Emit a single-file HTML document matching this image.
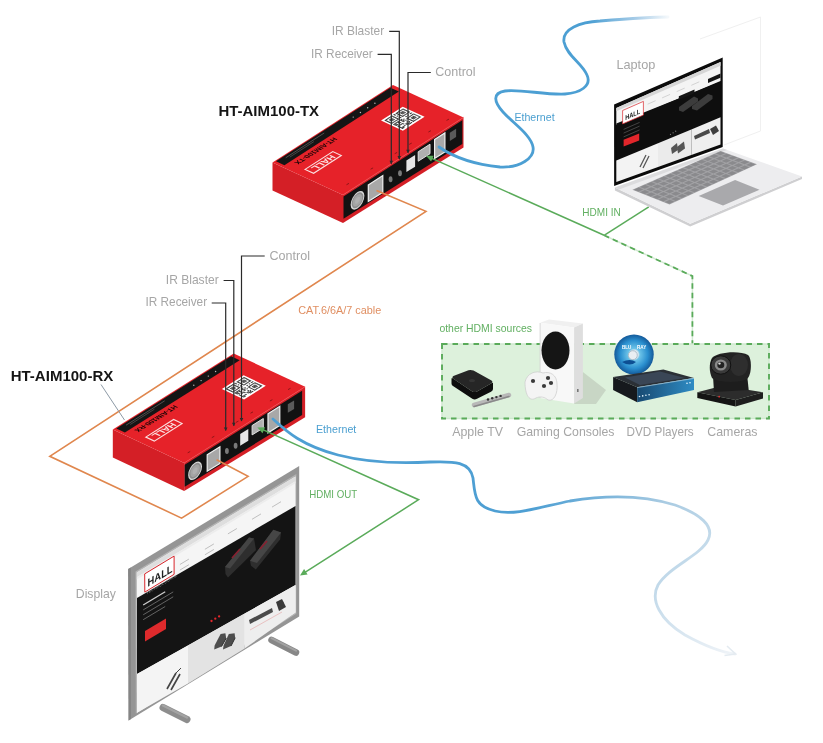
<!DOCTYPE html>
<html><head><meta charset="utf-8"><style>
html,body{margin:0;padding:0;background:#fff;overflow:hidden;}
svg{display:block;font-family:"Liberation Sans",sans-serif;will-change:transform;}
</style></head><body>
<svg width="823" height="743" viewBox="0 0 823 743">
<rect width="823" height="743" fill="#ffffff"/>
<line x1="760.5" y1="17.0" x2="760.5" y2="131.0" stroke="#f0f0f0" stroke-width="1" />
<line x1="760.5" y1="17.0" x2="700.0" y2="39.0" stroke="#f0f0f0" stroke-width="1" />
<line x1="760.5" y1="131.0" x2="724.0" y2="145.0" stroke="#f0f0f0" stroke-width="1" />
<defs><linearGradient id="g1" gradientUnits="userSpaceOnUse" x1="590" y1="0" x2="668" y2="0"><stop offset="0" stop-color="#4c9fd3"/><stop offset="0.6" stop-color="#a9cde8"/><stop offset="1" stop-color="#f4f8fb"/></linearGradient><linearGradient id="g2" gradientUnits="userSpaceOnUse" x1="560" y1="480" x2="740" y2="660"><stop offset="0" stop-color="#4e9fd3"/><stop offset="0.35" stop-color="#a9cbe2"/><stop offset="1" stop-color="#f4f6f9"/></linearGradient></defs>
<line x1="604.1" y1="235.3" x2="648.8" y2="206.9" stroke="#5aab5a" stroke-width="1.5" />
<polyline points="604.1,235.3 692.4,276.1 692.4,344" fill="none" stroke="#d3ead3" stroke-width="1.5"/>
<polyline points="604.1,235.3 692.4,276.1 692.4,344" fill="none" stroke="#5aab5a" stroke-width="1.8" stroke-dasharray="5.5,4"/>
<rect x="442" y="344" width="327" height="74.5" fill="#ddf1dc" stroke="#cfe8cf" stroke-width="1.5"/>
<rect x="442" y="344" width="327" height="74.5" fill="none" stroke="#5aab5a" stroke-width="1.9" stroke-dasharray="5.5,5"/>
<polygon points="614.9,187.4 690.2,223.8 802.0,176.5 802.0,179.0 690.2,226.5 614.9,190.5" fill="#cfcfd1" />
<polygon points="614.9,187.4 723.0,148.5 802.0,176.5 690.2,223.8" fill="#ededef" />
<polygon points="614.9,187.4 723.0,148.5 727.0,150.0 619.0,189.5" fill="#dcdcde" />
<polygon points="632.4,189.8 720.6,150.9 757.0,164.3 669.5,204.4" fill="#a2a2a5" />
<polygon points="633.8,189.8 638.7,187.6 643.4,189.5 638.5,191.6" fill="#8a8a8d" />
<polygon points="640.1,187.0 645.0,184.8 649.7,186.7 644.8,188.8" fill="#8a8a8d" />
<polygon points="646.4,184.2 651.3,182.1 656.0,183.9 651.1,186.0" fill="#8a8a8d" />
<polygon points="652.7,181.4 657.6,179.3 662.3,181.1 657.4,183.3" fill="#8a8a8d" />
<polygon points="659.0,178.7 663.9,176.5 668.6,178.3 663.7,180.5" fill="#8a8a8d" />
<polygon points="665.3,175.9 670.2,173.7 674.9,175.5 670.0,177.7" fill="#8a8a8d" />
<polygon points="671.6,173.1 676.5,170.9 681.2,172.7 676.3,174.9" fill="#8a8a8d" />
<polygon points="677.9,170.3 682.8,168.2 687.5,169.9 682.6,172.1" fill="#8a8a8d" />
<polygon points="684.2,167.5 689.1,165.4 693.8,167.1 688.9,169.3" fill="#8a8a8d" />
<polygon points="690.5,164.8 695.4,162.6 700.1,164.3 695.2,166.5" fill="#8a8a8d" />
<polygon points="696.8,162.0 701.7,159.8 706.4,161.6 701.5,163.7" fill="#8a8a8d" />
<polygon points="703.1,159.2 708.0,157.0 712.6,158.8 707.8,160.9" fill="#8a8a8d" />
<polygon points="709.4,156.4 714.3,154.3 718.9,156.0 714.1,158.1" fill="#8a8a8d" />
<polygon points="715.7,153.6 720.6,151.5 725.2,153.2 720.4,155.3" fill="#8a8a8d" />
<polygon points="640.0,192.2 644.9,190.0 649.6,191.9 644.7,194.1" fill="#8a8a8d" />
<polygon points="646.3,189.4 651.2,187.2 655.9,189.1 651.0,191.3" fill="#8a8a8d" />
<polygon points="652.6,186.6 657.5,184.5 662.2,186.3 657.3,188.4" fill="#8a8a8d" />
<polygon points="658.9,183.8 663.8,181.7 668.5,183.5 663.6,185.6" fill="#8a8a8d" />
<polygon points="665.2,181.0 670.1,178.9 674.7,180.7 669.9,182.8" fill="#8a8a8d" />
<polygon points="671.5,178.2 676.4,176.1 681.0,177.9 676.2,180.0" fill="#8a8a8d" />
<polygon points="677.8,175.4 682.7,173.3 687.3,175.1 682.4,177.2" fill="#8a8a8d" />
<polygon points="684.1,172.7 688.9,170.5 693.6,172.2 688.7,174.4" fill="#8a8a8d" />
<polygon points="690.4,169.9 695.2,167.7 699.9,169.4 695.0,171.6" fill="#8a8a8d" />
<polygon points="696.6,167.1 701.5,164.9 706.2,166.6 701.3,168.8" fill="#8a8a8d" />
<polygon points="702.9,164.3 707.8,162.1 712.4,163.8 707.6,166.0" fill="#8a8a8d" />
<polygon points="709.2,161.5 714.1,159.3 718.7,161.0 713.9,163.2" fill="#8a8a8d" />
<polygon points="715.5,158.7 720.4,156.5 725.0,158.2 720.1,160.4" fill="#8a8a8d" />
<polygon points="721.8,155.9 726.7,153.7 731.3,155.4 726.4,157.6" fill="#8a8a8d" />
<polygon points="646.2,194.6 651.1,192.5 655.8,194.3 650.9,196.5" fill="#8a8a8d" />
<polygon points="652.5,191.8 657.4,189.7 662.1,191.5 657.2,193.7" fill="#8a8a8d" />
<polygon points="658.8,189.0 663.7,186.8 668.3,188.7 663.5,190.9" fill="#8a8a8d" />
<polygon points="665.1,186.2 669.9,184.0 674.6,185.8 669.7,188.0" fill="#8a8a8d" />
<polygon points="671.3,183.4 676.2,181.2 680.9,183.0 676.0,185.2" fill="#8a8a8d" />
<polygon points="677.6,180.6 682.5,178.4 687.2,180.2 682.3,182.4" fill="#8a8a8d" />
<polygon points="683.9,177.8 688.8,175.6 693.4,177.4 688.6,179.6" fill="#8a8a8d" />
<polygon points="690.2,175.0 695.1,172.8 699.7,174.6 694.8,176.8" fill="#8a8a8d" />
<polygon points="696.5,172.2 701.3,170.0 706.0,171.7 701.1,173.9" fill="#8a8a8d" />
<polygon points="702.8,169.4 707.6,167.2 712.3,168.9 707.4,171.1" fill="#8a8a8d" />
<polygon points="709.0,166.6 713.9,164.4 718.5,166.1 713.7,168.3" fill="#8a8a8d" />
<polygon points="715.3,163.7 720.2,161.6 724.8,163.3 719.9,165.5" fill="#8a8a8d" />
<polygon points="721.6,160.9 726.5,158.8 731.1,160.5 726.2,162.7" fill="#8a8a8d" />
<polygon points="727.9,158.1 732.8,155.9 737.4,157.6 732.5,159.8" fill="#8a8a8d" />
<polygon points="652.4,197.1 657.3,194.9 662.0,196.7 657.1,198.9" fill="#8a8a8d" />
<polygon points="658.7,194.3 663.5,192.1 668.2,193.9 663.4,196.1" fill="#8a8a8d" />
<polygon points="664.9,191.4 669.8,189.2 674.5,191.1 669.6,193.3" fill="#8a8a8d" />
<polygon points="671.2,188.6 676.1,186.4 680.8,188.2 675.9,190.4" fill="#8a8a8d" />
<polygon points="677.5,185.8 682.4,183.6 687.0,185.4 682.2,187.6" fill="#8a8a8d" />
<polygon points="683.8,183.0 688.6,180.8 693.3,182.6 688.4,184.8" fill="#8a8a8d" />
<polygon points="690.0,180.1 694.9,177.9 699.6,179.7 694.7,181.9" fill="#8a8a8d" />
<polygon points="696.3,177.3 701.2,175.1 705.8,176.9 701.0,179.1" fill="#8a8a8d" />
<polygon points="702.6,174.5 707.5,172.3 712.1,174.1 707.2,176.3" fill="#8a8a8d" />
<polygon points="708.9,171.7 713.7,169.5 718.4,171.2 713.5,173.4" fill="#8a8a8d" />
<polygon points="715.1,168.8 720.0,166.7 724.6,168.4 719.8,170.6" fill="#8a8a8d" />
<polygon points="721.4,166.0 726.3,163.8 730.9,165.6 726.0,167.7" fill="#8a8a8d" />
<polygon points="727.7,163.2 732.6,161.0 737.2,162.7 732.3,164.9" fill="#8a8a8d" />
<polygon points="734.0,160.4 738.8,158.2 743.4,159.9 738.6,162.1" fill="#8a8a8d" />
<polygon points="658.6,199.5 663.4,197.3 668.1,199.1 663.3,201.4" fill="#8a8a8d" />
<polygon points="664.8,196.7 669.7,194.5 674.4,196.3 669.5,198.5" fill="#8a8a8d" />
<polygon points="671.1,193.8 676.0,191.6 680.7,193.4 675.8,195.7" fill="#8a8a8d" />
<polygon points="677.4,191.0 682.2,188.8 686.9,190.6 682.1,192.8" fill="#8a8a8d" />
<polygon points="683.6,188.2 688.5,186.0 693.2,187.8 688.3,190.0" fill="#8a8a8d" />
<polygon points="689.9,185.3 694.8,183.1 699.4,184.9 694.6,187.1" fill="#8a8a8d" />
<polygon points="696.2,182.5 701.0,180.3 705.7,182.1 700.8,184.3" fill="#8a8a8d" />
<polygon points="702.4,179.6 707.3,177.4 711.9,179.2 707.1,181.4" fill="#8a8a8d" />
<polygon points="708.7,176.8 713.6,174.6 718.2,176.4 713.4,178.6" fill="#8a8a8d" />
<polygon points="715.0,174.0 719.8,171.8 724.5,173.5 719.6,175.7" fill="#8a8a8d" />
<polygon points="721.2,171.1 726.1,168.9 730.7,170.7 725.9,172.9" fill="#8a8a8d" />
<polygon points="727.5,168.3 732.4,166.1 737.0,167.8 732.1,170.0" fill="#8a8a8d" />
<polygon points="733.8,165.5 738.6,163.3 743.2,165.0 738.4,167.2" fill="#8a8a8d" />
<polygon points="740.0,162.6 744.9,160.4 749.5,162.1 744.6,164.3" fill="#8a8a8d" />
<polygon points="664.8,201.9 669.6,199.7 674.3,201.6 669.5,203.8" fill="#8a8a8d" />
<polygon points="671.0,199.1 675.9,196.9 680.6,198.7 675.7,200.9" fill="#8a8a8d" />
<polygon points="677.3,196.2 682.1,194.0 686.8,195.8 682.0,198.1" fill="#8a8a8d" />
<polygon points="683.5,193.4 688.4,191.2 693.1,193.0 688.2,195.2" fill="#8a8a8d" />
<polygon points="689.8,190.5 694.6,188.3 699.3,190.1 694.5,192.3" fill="#8a8a8d" />
<polygon points="696.0,187.7 700.9,185.5 705.6,187.3 700.7,189.5" fill="#8a8a8d" />
<polygon points="702.3,184.8 707.2,182.6 711.8,184.4 707.0,186.6" fill="#8a8a8d" />
<polygon points="708.6,182.0 713.4,179.8 718.1,181.5 713.2,183.7" fill="#8a8a8d" />
<polygon points="714.8,179.1 719.7,176.9 724.3,178.7 719.5,180.9" fill="#8a8a8d" />
<polygon points="721.1,176.3 725.9,174.1 730.6,175.8 725.7,178.0" fill="#8a8a8d" />
<polygon points="727.3,173.4 732.2,171.2 736.8,172.9 732.0,175.2" fill="#8a8a8d" />
<polygon points="733.6,170.6 738.4,168.4 743.1,170.1 738.2,172.3" fill="#8a8a8d" />
<polygon points="739.8,167.7 744.7,165.5 749.3,167.2 744.5,169.4" fill="#8a8a8d" />
<polygon points="746.1,164.9 751.0,162.7 755.6,164.4 750.7,166.6" fill="#8a8a8d" />
<polygon points="698.7,195.9 735.1,180.1 759.5,189.8 723.0,205.6" fill="#a9a9ac" />
<polygon points="614.1,104.6 722.7,57.5 722.7,147.0 614.1,186.0" fill="#0b0b0b" />
<polygon points="616.3,108.0 720.5,62.0 720.5,81.0 616.3,125.0" fill="#f4f4f4" />
<polygon points="616.3,108.0 720.5,62.0 720.5,65.7 616.3,111.3" fill="#d6d6d6" />
<polygon points="616.3,123.5 720.5,81.8 720.5,117.3 616.3,160.5" fill="#0e0e0e" />
<polygon points="616.3,160.4 658.0,143.2 658.0,167.0 616.3,182.0" fill="#f3f3f3" />
<polygon points="658.0,143.2 691.3,129.4 691.3,155.0 658.0,167.0" fill="#ebebeb" />
<polygon points="691.3,129.4 720.5,117.2 720.5,144.5 691.3,155.0" fill="#efefef" />
<polygon points="678.8,96.2 694.5,89.6 694.5,93.2 678.8,99.8" fill="#151515" />
<polygon points="708.0,78.9 720.5,73.5 720.5,77.7 708.0,83.0" fill="#151515" />
<line x1="647.6" y1="104.2" x2="655.6" y2="100.7" stroke="#c4c4c4" stroke-width="0.7" />
<line x1="662.1" y1="97.9" x2="670.1" y2="94.4" stroke="#c4c4c4" stroke-width="0.7" />
<line x1="676.7" y1="91.6" x2="684.7" y2="88.1" stroke="#c4c4c4" stroke-width="0.7" />
<line x1="691.3" y1="85.3" x2="699.3" y2="81.8" stroke="#c4c4c4" stroke-width="0.7" />
<polygon points="622.6,110.5 643.4,101.4 643.4,115.1 622.6,123.9" fill="#ffffff" stroke="#d9262c" stroke-width="0.7"/>
<text x="0" y="0" font-size="7" font-weight="bold" fill="#222" textLength="15" lengthAdjust="spacingAndGlyphs" transform="matrix(1,-0.44,0,1,625.2,120.2)">HALL</text>
<line x1="623.6" y1="129.4" x2="639.6" y2="122.4" stroke="#666" stroke-width="0.6" />
<line x1="623.6" y1="133.1" x2="639.6" y2="126.1" stroke="#666" stroke-width="0.6" />
<line x1="623.6" y1="136.9" x2="639.6" y2="129.9" stroke="#666" stroke-width="0.6" />
<polygon points="623.6,139.8 639.2,133.5 639.2,140.4 623.6,146.6" fill="#e2262b" />
<polygon points="679.0,107.0 694.0,96.5 698.0,98.5 698.0,101.5 683.0,112.0 679.0,110.5" fill="#3c3c3c" />
<polygon points="692.0,106.0 708.0,94.0 712.5,95.5 712.5,99.0 697.0,110.5 692.0,109.0" fill="#3c3c3c" />
<circle cx="670.5" cy="134.3" r="0.6" fill="#888"/>
<circle cx="673.1" cy="132.8" r="0.6" fill="#888"/>
<circle cx="675.7" cy="131.2" r="0.6" fill="#888"/>
<line x1="640.0" y1="167.0" x2="646.0" y2="155.0" stroke="#555" stroke-width="1.3" />
<line x1="643.0" y1="168.0" x2="649.0" y2="156.0" stroke="#555" stroke-width="1.3" />
<polygon points="671.0,148.0 677.0,143.0 678.0,150.0 672.0,154.0" fill="#555" />
<polygon points="677.0,147.0 684.0,141.5 685.0,148.5 678.0,153.5" fill="#555" />
<polygon points="694.0,136.0 709.0,129.0 710.0,133.0 695.0,139.5" fill="#4a4a4a" />
<polygon points="710.0,129.0 716.0,125.5 719.0,131.0 713.0,135.0" fill="#3e3e3e" />
<line x1="271.5" y1="640" x2="296" y2="652.5" stroke="#878787" stroke-width="6.5" stroke-linecap="round"/>
<line x1="271.5" y1="638.2" x2="296" y2="650.7" stroke="#a2a2a2" stroke-width="2" stroke-linecap="round"/>
<polygon points="128.2,569.0 299.2,466.0 299.2,616.5 128.6,720.4" fill="#959595" />
<polygon points="128.2,569.0 130.8,567.5 131.0,719.0 128.6,720.4" fill="#858585" />
<polygon points="135.5,571.5 296.3,474.0 296.3,613.8 135.8,713.8" fill="#b3b3b3" />
<polygon points="136.8,572.4 295.5,476.5 295.5,612.6 137.0,712.8" fill="#f5f5f5" />
<polygon points="136.8,572.4 295.5,476.5 295.5,481.3 136.8,577.3" fill="#dedede" />
<polygon points="136.8,577.3 295.5,481.3 295.5,483.3 136.8,579.4" fill="#ececec" />
<polygon points="137.0,598.0 295.5,506.0 295.5,585.0 137.0,674.0" fill="#141414" />
<polygon points="137.0,674.0 188.0,645.4 188.0,683.5 137.0,712.8" fill="#f4f4f4" />
<polygon points="188.0,645.4 244.6,613.6 244.6,648.5 188.0,683.5" fill="#e3e3e3" />
<polygon points="244.6,613.6 295.5,585.0 295.5,612.6 244.6,648.5" fill="#eeeeee" />
<line x1="179.9" y1="564.5" x2="188.9" y2="559.1" stroke="#b9b9b9" stroke-width="0.9" />
<line x1="204.9" y1="549.3" x2="213.9" y2="543.9" stroke="#b9b9b9" stroke-width="0.9" />
<line x1="227.9" y1="533.9" x2="236.9" y2="528.5" stroke="#b9b9b9" stroke-width="0.9" />
<line x1="252.0" y1="519.3" x2="261.0" y2="513.9" stroke="#b9b9b9" stroke-width="0.9" />
<line x1="272.0" y1="507.1" x2="281.0" y2="501.7" stroke="#b9b9b9" stroke-width="0.9" />
<line x1="179.9" y1="570.1" x2="188.9" y2="564.7" stroke="#b9b9b9" stroke-width="0.9" />
<line x1="204.9" y1="554.8" x2="213.9" y2="549.4" stroke="#b9b9b9" stroke-width="0.9" />
<polygon points="144.7,573.9 174.1,556.1 174.1,574.3 144.8,592.1" fill="#ffffff" stroke="#d9262c" stroke-width="1"/>
<text x="0" y="0" font-size="11" font-weight="bold" fill="#1e1e1e" textLength="25" lengthAdjust="spacingAndGlyphs" transform="matrix(1,-0.6,0,1,147.6,586.9)">HALL</text>
<text x="0" y="0" font-size="3.2" fill="#888" textLength="30" lengthAdjust="spacingAndGlyphs" transform="matrix(1,-0.6,0,1,146.4,594.7)">TECHNOLOGIES</text>
<line x1="143.2" y1="605.0" x2="165.2" y2="591.8" stroke="#cfcfcf" stroke-width="1.3" />
<line x1="143.2" y1="609.9" x2="173.2" y2="591.9" stroke="#777" stroke-width="0.8" />
<line x1="143.2" y1="614.8" x2="173.2" y2="596.8" stroke="#777" stroke-width="0.8" />
<line x1="143.2" y1="619.7" x2="165.2" y2="606.5" stroke="#777" stroke-width="0.8" />
<polygon points="145.0,631.0 166.0,618.5 166.0,629.0 145.0,641.5" fill="#de2a2c" />
<polygon points="225.0,567.0 249.0,537.5 254.0,538.5 256.0,550.0 228.0,577.5 225.5,574.0" fill="#2e2e2e" />
<polygon points="225.0,567.0 249.0,537.5 254.0,538.5 230.0,568.5" fill="#444" />
<polygon points="250.0,560.8 273.3,529.7 281.1,532.6 280.1,539.4 255.8,569.6 251.0,565.7" fill="#2e2e2e" />
<polygon points="250.0,560.8 273.3,529.7 281.1,532.6 257.0,563.0" fill="#464646" />
<line x1="232.0" y1="558.0" x2="240.0" y2="549.0" stroke="#8a2030" stroke-width="1.6" />
<line x1="260.0" y1="549.0" x2="267.0" y2="541.0" stroke="#8a2030" stroke-width="1.6" />
<circle cx="211.5" cy="621.0" r="1.15" fill="#e0262b"/>
<circle cx="215.3" cy="618.7" r="1.15" fill="#e0262b"/>
<circle cx="219.1" cy="616.4" r="1.15" fill="#e0262b"/>
<line x1="167.0" y1="689.0" x2="176.0" y2="673.0" stroke="#444" stroke-width="1.6" />
<line x1="171.0" y1="690.0" x2="180.0" y2="674.0" stroke="#444" stroke-width="1.6" />
<line x1="176.0" y1="673.0" x2="181.0" y2="668.0" stroke="#444" stroke-width="1" />
<polygon points="220.6,634.0 225.4,633.3 226.2,638.2 221.5,646.5 214.2,649.4 214.6,645.5" fill="#4d4d4d" />
<polygon points="228.8,634.0 234.6,633.3 235.2,637.8 231.0,646.0 223.0,649.4 223.6,645.5" fill="#4d4d4d" />
<line x1="221.5" y1="646.5" x2="226.2" y2="638.2" stroke="#2f2f2f" stroke-width="1" />
<line x1="231.0" y1="646.0" x2="235.2" y2="637.8" stroke="#2f2f2f" stroke-width="1" />
<polygon points="249.0,620.0 272.0,608.0 273.0,612.0 250.0,624.0" fill="#4a4a4a" />
<polygon points="276.0,602.0 282.0,599.0 286.0,607.0 279.0,611.0" fill="#3a3a3a" />
<circle cx="281" cy="603" r="2.5" fill="#3a3a3a"/>
<line x1="250.0" y1="630.0" x2="282.0" y2="612.0" stroke="#e6a3a3" stroke-width="0.6" />
<polygon points="272.5,162.4 343.0,194.9 343.0,222.9 272.5,190.4" fill="#d41f26" />
<polygon points="343.0,194.9 463.5,117.4 463.5,147.4 343.0,222.9" fill="#d41f26" />
<polygon points="343.5,196.6 462.3,120.3 462.3,144.0 343.5,218.7" fill="#121212" />
<polygon points="272.5,162.4 393.0,84.9 463.5,117.4 343.0,194.9" fill="#e62229" />
<line x1="343.0" y1="194.9" x2="463.5" y2="117.4" stroke="#f04a4f" stroke-width="0.8"/>
<polygon points="276.0,161.3 390.4,87.7 398.9,91.6 284.4,165.2" fill="#151515" />
<text x="0" y="0" font-size="7" font-weight="bold" fill="#1a0506" textLength="47" lengthAdjust="spacingAndGlyphs" transform="matrix(-0.841,0.541,-0.908,-0.419,333.4,137.2)">HT-AIM100-TX</text>
<line x1="285.7" y1="157.8" x2="324.2" y2="133.0" stroke="#777" stroke-width="0.6"/>
<line x1="289.8" y1="157.1" x2="313.9" y2="141.6" stroke="#666" stroke-width="0.6"/>
<circle cx="353.2" cy="117.1" r="0.7" fill="#bbb"/>
<circle cx="360.4" cy="112.5" r="0.7" fill="#bbb"/>
<circle cx="367.7" cy="107.8" r="0.7" fill="#bbb"/>
<circle cx="374.9" cy="103.2" r="0.7" fill="#bbb"/>
<polygon points="381.0,120.6 402.7,106.7 424.6,116.8 402.9,130.7" fill="#ffffff" />
<polygon points="384.3,120.5 385.4,119.8 386.5,120.3 385.4,121.0" fill="#2a2a2a" />
<polygon points="385.4,119.8 386.5,119.1 387.6,119.6 386.5,120.3" fill="#2a2a2a" />
<polygon points="386.5,119.1 387.6,118.3 388.7,118.8 387.6,119.6" fill="#2a2a2a" />
<polygon points="387.6,118.3 388.7,117.6 389.8,118.1 388.7,118.8" fill="#2a2a2a" />
<polygon points="388.7,117.6 389.8,116.9 390.9,117.4 389.8,118.1" fill="#2a2a2a" />
<polygon points="389.8,116.9 390.9,116.2 392.0,116.7 390.9,117.4" fill="#2a2a2a" />
<polygon points="390.9,116.2 392.0,115.5 393.1,116.0 392.0,116.7" fill="#2a2a2a" />
<polygon points="385.4,121.0 386.5,120.3 387.5,120.8 386.5,121.5" fill="#2a2a2a" />
<polygon points="392.0,116.7 393.1,116.0 394.1,116.5 393.0,117.2" fill="#2a2a2a" />
<polygon points="386.5,121.5 387.5,120.8 388.6,121.3 387.5,122.0" fill="#2a2a2a" />
<polygon points="388.6,120.0 389.7,119.3 390.8,119.8 389.7,120.5" fill="#2a2a2a" />
<polygon points="389.7,119.3 390.8,118.6 391.9,119.1 390.8,119.8" fill="#2a2a2a" />
<polygon points="390.8,118.6 391.9,117.9 393.0,118.4 391.9,119.1" fill="#2a2a2a" />
<polygon points="393.0,117.2 394.1,116.5 395.2,117.0 394.1,117.7" fill="#2a2a2a" />
<polygon points="387.5,122.0 388.6,121.3 389.7,121.8 388.6,122.5" fill="#2a2a2a" />
<polygon points="389.7,120.5 390.8,119.8 391.9,120.3 390.8,121.0" fill="#2a2a2a" />
<polygon points="390.8,119.8 391.9,119.1 393.0,119.6 391.9,120.3" fill="#2a2a2a" />
<polygon points="391.9,119.1 393.0,118.4 394.1,118.9 393.0,119.6" fill="#2a2a2a" />
<polygon points="394.1,117.7 395.2,117.0 396.3,117.5 395.2,118.2" fill="#2a2a2a" />
<polygon points="388.6,122.5 389.7,121.8 390.8,122.2 389.7,123.0" fill="#2a2a2a" />
<polygon points="390.8,121.0 391.9,120.3 393.0,120.8 391.9,121.5" fill="#2a2a2a" />
<polygon points="391.9,120.3 393.0,119.6 394.1,120.1 393.0,120.8" fill="#2a2a2a" />
<polygon points="393.0,119.6 394.1,118.9 395.2,119.4 394.1,120.1" fill="#2a2a2a" />
<polygon points="395.2,118.2 396.3,117.5 397.4,118.0 396.3,118.7" fill="#2a2a2a" />
<polygon points="389.7,123.0 390.8,122.2 391.9,122.7 390.8,123.5" fill="#2a2a2a" />
<polygon points="396.3,118.7 397.4,118.0 398.5,118.5 397.4,119.2" fill="#2a2a2a" />
<polygon points="390.8,123.5 391.9,122.7 392.9,123.2 391.8,123.9" fill="#2a2a2a" />
<polygon points="391.9,122.7 393.0,122.0 394.0,122.5 392.9,123.2" fill="#2a2a2a" />
<polygon points="393.0,122.0 394.1,121.3 395.1,121.8 394.0,122.5" fill="#2a2a2a" />
<polygon points="394.1,121.3 395.2,120.6 396.2,121.1 395.1,121.8" fill="#2a2a2a" />
<polygon points="395.2,120.6 396.3,119.9 397.3,120.4 396.2,121.1" fill="#2a2a2a" />
<polygon points="396.3,119.9 397.4,119.2 398.4,119.7 397.3,120.4" fill="#2a2a2a" />
<polygon points="397.4,119.2 398.5,118.5 399.5,119.0 398.4,119.7" fill="#2a2a2a" />
<polygon points="395.3,113.4 396.4,112.7 397.5,113.2 396.4,113.9" fill="#2a2a2a" />
<polygon points="396.4,112.7 397.5,112.0 398.6,112.5 397.5,113.2" fill="#2a2a2a" />
<polygon points="397.5,112.0 398.6,111.3 399.7,111.8 398.6,112.5" fill="#2a2a2a" />
<polygon points="398.6,111.3 399.7,110.6 400.8,111.1 399.7,111.8" fill="#2a2a2a" />
<polygon points="399.7,110.6 400.8,109.9 401.9,110.4 400.8,111.1" fill="#2a2a2a" />
<polygon points="400.8,109.9 401.9,109.2 403.0,109.7 401.9,110.4" fill="#2a2a2a" />
<polygon points="401.9,109.2 403.0,108.5 404.0,109.0 403.0,109.7" fill="#2a2a2a" />
<polygon points="396.4,113.9 397.5,113.2 398.5,113.7 397.4,114.4" fill="#2a2a2a" />
<polygon points="403.0,109.7 404.0,109.0 405.1,109.5 404.0,110.2" fill="#2a2a2a" />
<polygon points="397.4,114.4 398.5,113.7 399.6,114.2 398.5,114.9" fill="#2a2a2a" />
<polygon points="399.6,113.0 400.7,112.3 401.8,112.8 400.7,113.5" fill="#2a2a2a" />
<polygon points="400.7,112.3 401.8,111.6 402.9,112.1 401.8,112.8" fill="#2a2a2a" />
<polygon points="401.8,111.6 402.9,110.9 404.0,111.4 402.9,112.1" fill="#2a2a2a" />
<polygon points="404.0,110.2 405.1,109.5 406.2,109.9 405.1,110.7" fill="#2a2a2a" />
<polygon points="398.5,114.9 399.6,114.2 400.7,114.7 399.6,115.4" fill="#2a2a2a" />
<polygon points="400.7,113.5 401.8,112.8 402.9,113.3 401.8,114.0" fill="#2a2a2a" />
<polygon points="401.8,112.8 402.9,112.1 404.0,112.6 402.9,113.3" fill="#2a2a2a" />
<polygon points="402.9,112.1 404.0,111.4 405.1,111.9 404.0,112.6" fill="#2a2a2a" />
<polygon points="405.1,110.7 406.2,109.9 407.3,110.4 406.2,111.2" fill="#2a2a2a" />
<polygon points="399.6,115.4 400.7,114.7 401.8,115.2 400.7,115.9" fill="#2a2a2a" />
<polygon points="401.8,114.0 402.9,113.3 404.0,113.8 402.9,114.5" fill="#2a2a2a" />
<polygon points="402.9,113.3 404.0,112.6 405.1,113.1 404.0,113.8" fill="#2a2a2a" />
<polygon points="404.0,112.6 405.1,111.9 406.2,112.4 405.1,113.1" fill="#2a2a2a" />
<polygon points="406.2,111.2 407.3,110.4 408.4,110.9 407.3,111.6" fill="#2a2a2a" />
<polygon points="400.7,115.9 401.8,115.2 402.8,115.7 401.7,116.4" fill="#2a2a2a" />
<polygon points="407.3,111.6 408.4,110.9 409.4,111.4 408.3,112.1" fill="#2a2a2a" />
<polygon points="401.7,116.4 402.8,115.7 403.9,116.2 402.8,116.9" fill="#2a2a2a" />
<polygon points="402.8,115.7 403.9,115.0 405.0,115.5 403.9,116.2" fill="#2a2a2a" />
<polygon points="403.9,115.0 405.0,114.3 406.1,114.8 405.0,115.5" fill="#2a2a2a" />
<polygon points="405.0,114.3 406.1,113.6 407.2,114.1 406.1,114.8" fill="#2a2a2a" />
<polygon points="406.1,113.6 407.2,112.9 408.3,113.3 407.2,114.1" fill="#2a2a2a" />
<polygon points="407.2,112.9 408.3,112.1 409.4,112.6 408.3,113.3" fill="#2a2a2a" />
<polygon points="408.3,112.1 409.4,111.4 410.5,111.9 409.4,112.6" fill="#2a2a2a" />
<polygon points="406.1,118.4 407.2,117.7 408.2,118.2 407.1,118.9" fill="#2a2a2a" />
<polygon points="407.2,117.7 408.3,117.0 409.3,117.5 408.2,118.2" fill="#2a2a2a" />
<polygon points="408.3,117.0 409.4,116.3 410.4,116.8 409.3,117.5" fill="#2a2a2a" />
<polygon points="409.4,116.3 410.5,115.5 411.5,116.0 410.4,116.8" fill="#2a2a2a" />
<polygon points="410.5,115.5 411.6,114.8 412.6,115.3 411.5,116.0" fill="#2a2a2a" />
<polygon points="411.6,114.8 412.7,114.1 413.7,114.6 412.6,115.3" fill="#2a2a2a" />
<polygon points="412.7,114.1 413.8,113.4 414.8,113.9 413.7,114.6" fill="#2a2a2a" />
<polygon points="407.1,118.9 408.2,118.2 409.3,118.7 408.2,119.4" fill="#2a2a2a" />
<polygon points="413.7,114.6 414.8,113.9 415.9,114.4 414.8,115.1" fill="#2a2a2a" />
<polygon points="408.2,119.4 409.3,118.7 410.4,119.2 409.3,119.9" fill="#2a2a2a" />
<polygon points="410.4,118.0 411.5,117.2 412.6,117.7 411.5,118.5" fill="#2a2a2a" />
<polygon points="411.5,117.2 412.6,116.5 413.7,117.0 412.6,117.7" fill="#2a2a2a" />
<polygon points="412.6,116.5 413.7,115.8 414.8,116.3 413.7,117.0" fill="#2a2a2a" />
<polygon points="414.8,115.1 415.9,114.4 417.0,114.9 415.9,115.6" fill="#2a2a2a" />
<polygon points="409.3,119.9 410.4,119.2 411.5,119.7 410.4,120.4" fill="#2a2a2a" />
<polygon points="411.5,118.5 412.6,117.7 413.7,118.2 412.6,118.9" fill="#2a2a2a" />
<polygon points="412.6,117.7 413.7,117.0 414.8,117.5 413.7,118.2" fill="#2a2a2a" />
<polygon points="413.7,117.0 414.8,116.3 415.9,116.8 414.8,117.5" fill="#2a2a2a" />
<polygon points="415.9,115.6 417.0,114.9 418.1,115.4 417.0,116.1" fill="#2a2a2a" />
<polygon points="410.4,120.4 411.5,119.7 412.6,120.2 411.5,120.9" fill="#2a2a2a" />
<polygon points="412.6,118.9 413.7,118.2 414.8,118.7 413.7,119.4" fill="#2a2a2a" />
<polygon points="413.7,118.2 414.8,117.5 415.8,118.0 414.8,118.7" fill="#2a2a2a" />
<polygon points="414.8,117.5 415.9,116.8 416.9,117.3 415.8,118.0" fill="#2a2a2a" />
<polygon points="417.0,116.1 418.1,115.4 419.1,115.9 418.0,116.6" fill="#2a2a2a" />
<polygon points="411.5,120.9 412.6,120.2 413.6,120.6 412.5,121.4" fill="#2a2a2a" />
<polygon points="418.0,116.6 419.1,115.9 420.2,116.4 419.1,117.1" fill="#2a2a2a" />
<polygon points="412.5,121.4 413.6,120.6 414.7,121.1 413.6,121.9" fill="#2a2a2a" />
<polygon points="413.6,120.6 414.7,119.9 415.8,120.4 414.7,121.1" fill="#2a2a2a" />
<polygon points="414.7,119.9 415.8,119.2 416.9,119.7 415.8,120.4" fill="#2a2a2a" />
<polygon points="415.8,119.2 416.9,118.5 418.0,119.0 416.9,119.7" fill="#2a2a2a" />
<polygon points="416.9,118.5 418.0,117.8 419.1,118.3 418.0,119.0" fill="#2a2a2a" />
<polygon points="418.0,117.8 419.1,117.1 420.2,117.6 419.1,118.3" fill="#2a2a2a" />
<polygon points="419.1,117.1 420.2,116.4 421.3,116.9 420.2,117.6" fill="#2a2a2a" />
<polygon points="393.1,114.8 394.2,114.1 395.3,114.6 394.2,115.3" fill="#2a2a2a" />
<polygon points="394.2,115.3 395.3,114.6 396.3,115.1 395.2,115.8" fill="#2a2a2a" />
<polygon points="396.3,116.3 397.4,115.6 398.5,116.1 397.4,116.8" fill="#2a2a2a" />
<polygon points="398.5,117.3 399.6,116.6 400.7,117.1 399.6,117.8" fill="#2a2a2a" />
<polygon points="399.6,117.8 400.7,117.1 401.7,117.6 400.6,118.3" fill="#2a2a2a" />
<polygon points="392.9,124.4 394.0,123.7 395.1,124.2 394.0,124.9" fill="#2a2a2a" />
<polygon points="394.0,123.7 395.1,123.0 396.2,123.5 395.1,124.2" fill="#2a2a2a" />
<polygon points="395.1,123.0 396.2,122.3 397.3,122.8 396.2,123.5" fill="#2a2a2a" />
<polygon points="396.2,122.3 397.3,121.6 398.4,122.1 397.3,122.8" fill="#2a2a2a" />
<polygon points="397.3,121.6 398.4,120.9 399.5,121.4 398.4,122.1" fill="#2a2a2a" />
<polygon points="399.5,120.2 400.6,119.5 401.7,120.0 400.6,120.7" fill="#2a2a2a" />
<polygon points="400.6,119.5 401.7,118.8 402.8,119.3 401.7,120.0" fill="#2a2a2a" />
<polygon points="405.0,116.7 406.1,116.0 407.2,116.5 406.1,117.2" fill="#2a2a2a" />
<polygon points="407.2,115.3 408.3,114.6 409.4,115.0 408.3,115.8" fill="#2a2a2a" />
<polygon points="409.4,113.8 410.5,113.1 411.6,113.6 410.5,114.3" fill="#2a2a2a" />
<polygon points="410.5,113.1 411.6,112.4 412.7,112.9 411.6,113.6" fill="#2a2a2a" />
<polygon points="394.0,124.9 395.1,124.2 396.2,124.7 395.1,125.4" fill="#2a2a2a" />
<polygon points="395.1,124.2 396.2,123.5 397.3,124.0 396.2,124.7" fill="#2a2a2a" />
<polygon points="397.3,122.8 398.4,122.1 399.5,122.6 398.4,123.3" fill="#2a2a2a" />
<polygon points="400.6,120.7 401.7,120.0 402.8,120.5 401.7,121.2" fill="#2a2a2a" />
<polygon points="402.8,119.3 403.9,118.6 405.0,119.1 403.9,119.8" fill="#2a2a2a" />
<polygon points="395.1,125.4 396.2,124.7 397.3,125.2 396.2,125.9" fill="#2a2a2a" />
<polygon points="396.2,124.7 397.3,124.0 398.4,124.5 397.3,125.2" fill="#2a2a2a" />
<polygon points="398.4,123.3 399.5,122.6 400.5,123.1 399.5,123.8" fill="#2a2a2a" />
<polygon points="399.5,122.6 400.6,121.9 401.6,122.4 400.5,123.1" fill="#2a2a2a" />
<polygon points="401.7,121.2 402.8,120.5 403.8,121.0 402.7,121.7" fill="#2a2a2a" />
<polygon points="402.8,120.5 403.9,119.8 404.9,120.3 403.8,121.0" fill="#2a2a2a" />
<polygon points="397.3,125.2 398.4,124.5 399.4,125.0 398.3,125.7" fill="#2a2a2a" />
<polygon points="402.7,121.7 403.8,121.0 404.9,121.5 403.8,122.2" fill="#2a2a2a" />
<polygon points="404.9,120.3 406.0,119.6 407.1,120.1 406.0,120.8" fill="#2a2a2a" />
<polygon points="397.2,126.4 398.3,125.7 399.4,126.2 398.3,126.9" fill="#2a2a2a" />
<polygon points="399.4,125.0 400.5,124.3 401.6,124.8 400.5,125.5" fill="#2a2a2a" />
<polygon points="400.5,124.3 401.6,123.6 402.7,124.1 401.6,124.8" fill="#2a2a2a" />
<polygon points="401.6,123.6 402.7,122.9 403.8,123.4 402.7,124.1" fill="#2a2a2a" />
<polygon points="398.3,126.9 399.4,126.2 400.5,126.7 399.4,127.4" fill="#2a2a2a" />
<polygon points="402.7,124.1 403.8,123.4 404.9,123.9 403.8,124.6" fill="#2a2a2a" />
<polygon points="406.0,122.0 407.1,121.3 408.2,121.8 407.1,122.5" fill="#2a2a2a" />
<polygon points="399.4,127.4 400.5,126.7 401.6,127.2 400.5,127.9" fill="#2a2a2a" />
<polygon points="404.9,123.9 406.0,123.2 407.1,123.7 406.0,124.4" fill="#2a2a2a" />
<polygon points="406.0,123.2 407.1,122.5 408.2,123.0 407.1,123.7" fill="#2a2a2a" />
<polygon points="408.2,121.8 409.3,121.1 410.4,121.6 409.3,122.3" fill="#2a2a2a" />
<polygon points="400.5,127.9 401.6,127.2 402.6,127.7 401.5,128.4" fill="#2a2a2a" />
<polygon points="401.6,127.2 402.7,126.5 403.7,127.0 402.6,127.7" fill="#2a2a2a" />
<polygon points="402.7,126.5 403.8,125.8 404.8,126.3 403.7,127.0" fill="#2a2a2a" />
<polygon points="403.8,125.8 404.9,125.1 405.9,125.6 404.8,126.3" fill="#2a2a2a" />
<polygon points="406.0,124.4 407.1,123.7 408.1,124.2 407.0,124.9" fill="#2a2a2a" />
<polygon points="407.1,123.7 408.2,123.0 409.2,123.5 408.1,124.2" fill="#2a2a2a" />
<polygon points="408.2,123.0 409.3,122.3 410.3,122.8 409.2,123.5" fill="#2a2a2a" />
<polygon points="401.5,128.4 402.6,127.7 403.7,128.2 402.6,128.9" fill="#2a2a2a" />
<polygon points="402.6,127.7 403.7,127.0 404.8,127.5 403.7,128.2" fill="#2a2a2a" />
<polygon points="408.1,124.2 409.2,123.5 410.3,124.0 409.2,124.7" fill="#2a2a2a" />
<polygon points="409.2,123.5 410.3,122.8 411.4,123.3 410.3,124.0" fill="#2a2a2a" />
<polygon points="410.3,122.8 411.4,122.1 412.5,122.6 411.4,123.3" fill="#2a2a2a" />
<polygon points="305.1,169.4 332.8,151.6 341.3,155.5 313.6,173.3" fill="none" stroke="#fbe0e0" stroke-width="1.1"/>
<text x="0" y="0" font-size="8.5" font-weight="bold" fill="#fbe3e3" textLength="24.4" lengthAdjust="spacingAndGlyphs" transform="matrix(-0.841,0.541,-0.908,-0.419,331.0,154.8)">HALL</text>
<path d="M346.5,184.7 l2.5,-1.3" stroke="#6a1010" stroke-width="0.7"/>
<path d="M370.6,169.2 l2.5,-1.3" stroke="#6a1010" stroke-width="0.7"/>
<path d="M394.7,153.7 l2.5,-1.3" stroke="#6a1010" stroke-width="0.7"/>
<path d="M409.2,144.4 l2.5,-1.3" stroke="#6a1010" stroke-width="0.7"/>
<path d="M428.4,132.0 l2.5,-1.3" stroke="#6a1010" stroke-width="0.7"/>
<path d="M446.5,120.4 l2.5,-1.3" stroke="#6a1010" stroke-width="0.7"/>
<g transform="matrix(0.841,-0.541,0,1,357.5,200.3)"><circle r="8.2" fill="#d8d8d8"/><circle r="7" fill="#8e8e8e"/><circle r="5.5" fill="#a4a4a4"/><circle r="3" fill="#b0b0b0"/></g>
<polygon points="368.3,184.9 382.8,175.6 382.8,192.3 368.3,201.4" fill="#a8a8a8" stroke="#f0f0f0" stroke-width="1.2"/>
<ellipse cx="390.6" cy="179.3" rx="1.9" ry="3" fill="#7a7a7a"/>
<ellipse cx="400.0" cy="173.3" rx="1.9" ry="3" fill="#7a7a7a"/>
<polygon points="406.4,160.5 415.1,155.0 415.1,166.7 406.4,172.1" fill="#e6e6e6" />
<polygon points="418.2,151.8 430.0,144.2 430.0,153.7 418.2,161.2" fill="#b0b0b0" stroke="#e0e0e0" stroke-width="1"/>
<polygon points="434.6,139.5 444.9,132.9 444.9,151.9 434.6,158.4" fill="#a8a8a8" stroke="#f0f0f0" stroke-width="1.2"/>
<polygon points="449.8,132.8 456.1,128.7 456.1,137.1 449.8,141.1" fill="#5a5a5a" />
<polygon points="112.8,429.6 184.2,463.0 184.2,491.0 112.8,457.6" fill="#d41f26" />
<polygon points="184.2,463.0 305.1,386.8 305.1,417.3 184.2,491.0" fill="#d41f26" />
<polygon points="184.7,464.7 302.1,390.8 302.1,414.9 184.7,486.8" fill="#121212" />
<polygon points="112.8,429.6 233.7,353.4 305.1,386.8 184.2,463.0" fill="#e62229" />
<line x1="184.2" y1="463.0" x2="305.1" y2="386.8" stroke="#f04a4f" stroke-width="0.8"/>
<polygon points="116.3,428.6 231.1,356.2 239.7,360.2 124.9,432.6" fill="#151515" />
<text x="0" y="0" font-size="7" font-weight="bold" fill="#1a0506" textLength="47" lengthAdjust="spacingAndGlyphs" transform="matrix(-0.846,0.533,-0.906,-0.424,174.0,405.1)">HT-AIM100-RX</text>
<line x1="126.0" y1="425.2" x2="164.7" y2="400.8" stroke="#777" stroke-width="0.6"/>
<line x1="130.2" y1="424.5" x2="154.4" y2="409.2" stroke="#666" stroke-width="0.6"/>
<circle cx="193.8" cy="385.2" r="0.7" fill="#bbb"/>
<circle cx="201.1" cy="380.6" r="0.7" fill="#bbb"/>
<circle cx="208.3" cy="376.1" r="0.7" fill="#bbb"/>
<circle cx="215.6" cy="371.5" r="0.7" fill="#bbb"/>
<polygon points="221.9,389.0 243.7,375.3 265.8,385.7 244.1,399.4" fill="#ffffff" />
<polygon points="225.2,388.9 226.3,388.2 227.4,388.7 226.3,389.4" fill="#2a2a2a" />
<polygon points="226.3,388.2 227.4,387.5 228.5,388.0 227.4,388.7" fill="#2a2a2a" />
<polygon points="227.4,387.5 228.5,386.8 229.6,387.4 228.5,388.0" fill="#2a2a2a" />
<polygon points="228.5,386.8 229.6,386.1 230.7,386.7 229.6,387.4" fill="#2a2a2a" />
<polygon points="229.6,386.1 230.7,385.5 231.8,386.0 230.7,386.7" fill="#2a2a2a" />
<polygon points="230.7,385.5 231.8,384.8 232.9,385.3 231.8,386.0" fill="#2a2a2a" />
<polygon points="231.8,384.8 232.9,384.1 234.0,384.6 232.9,385.3" fill="#2a2a2a" />
<polygon points="226.3,389.4 227.4,388.7 228.5,389.3 227.4,390.0" fill="#2a2a2a" />
<polygon points="232.9,385.3 234.0,384.6 235.1,385.1 234.0,385.8" fill="#2a2a2a" />
<polygon points="227.4,390.0 228.5,389.3 229.6,389.8 228.5,390.5" fill="#2a2a2a" />
<polygon points="229.6,388.6 230.7,387.9 231.8,388.4 230.7,389.1" fill="#2a2a2a" />
<polygon points="230.7,387.9 231.8,387.2 232.9,387.7 231.8,388.4" fill="#2a2a2a" />
<polygon points="231.8,387.2 232.9,386.5 234.0,387.0 232.9,387.7" fill="#2a2a2a" />
<polygon points="234.0,385.8 235.1,385.1 236.2,385.6 235.1,386.3" fill="#2a2a2a" />
<polygon points="228.5,390.5 229.6,389.8 230.7,390.3 229.6,391.0" fill="#2a2a2a" />
<polygon points="230.7,389.1 231.8,388.4 232.9,388.9 231.8,389.6" fill="#2a2a2a" />
<polygon points="231.8,388.4 232.9,387.7 234.0,388.2 232.9,388.9" fill="#2a2a2a" />
<polygon points="232.9,387.7 234.0,387.0 235.1,387.5 234.0,388.2" fill="#2a2a2a" />
<polygon points="235.1,386.3 236.2,385.6 237.3,386.1 236.2,386.8" fill="#2a2a2a" />
<polygon points="229.6,391.0 230.7,390.3 231.8,390.8 230.7,391.5" fill="#2a2a2a" />
<polygon points="231.8,389.6 232.9,388.9 234.0,389.4 232.9,390.1" fill="#2a2a2a" />
<polygon points="232.9,388.9 234.0,388.2 235.1,388.7 234.0,389.4" fill="#2a2a2a" />
<polygon points="234.0,388.2 235.1,387.5 236.2,388.0 235.1,388.7" fill="#2a2a2a" />
<polygon points="236.2,386.8 237.3,386.1 238.4,386.6 237.3,387.3" fill="#2a2a2a" />
<polygon points="230.7,391.5 231.8,390.8 232.9,391.3 231.8,392.0" fill="#2a2a2a" />
<polygon points="237.3,387.3 238.4,386.6 239.5,387.1 238.4,387.8" fill="#2a2a2a" />
<polygon points="231.8,392.0 232.9,391.3 234.0,391.8 232.9,392.5" fill="#2a2a2a" />
<polygon points="232.9,391.3 234.0,390.6 235.1,391.1 234.0,391.8" fill="#2a2a2a" />
<polygon points="234.0,390.6 235.1,389.9 236.2,390.4 235.1,391.1" fill="#2a2a2a" />
<polygon points="235.1,389.9 236.2,389.2 237.3,389.7 236.2,390.4" fill="#2a2a2a" />
<polygon points="236.2,389.2 237.3,388.5 238.4,389.0 237.3,389.7" fill="#2a2a2a" />
<polygon points="237.3,388.5 238.4,387.8 239.5,388.3 238.4,389.0" fill="#2a2a2a" />
<polygon points="238.4,387.8 239.5,387.1 240.6,387.6 239.5,388.3" fill="#2a2a2a" />
<polygon points="236.2,382.0 237.3,381.3 238.4,381.8 237.3,382.5" fill="#2a2a2a" />
<polygon points="237.3,381.3 238.4,380.6 239.5,381.1 238.4,381.8" fill="#2a2a2a" />
<polygon points="238.4,380.6 239.6,379.9 240.6,380.4 239.5,381.1" fill="#2a2a2a" />
<polygon points="239.6,379.9 240.7,379.2 241.7,379.7 240.6,380.4" fill="#2a2a2a" />
<polygon points="240.7,379.2 241.8,378.5 242.8,379.0 241.7,379.7" fill="#2a2a2a" />
<polygon points="241.8,378.5 242.9,377.8 244.0,378.3 242.8,379.0" fill="#2a2a2a" />
<polygon points="242.9,377.8 244.0,377.1 245.1,377.6 244.0,378.3" fill="#2a2a2a" />
<polygon points="237.3,382.5 238.4,381.8 239.5,382.3 238.4,383.0" fill="#2a2a2a" />
<polygon points="244.0,378.3 245.1,377.6 246.1,378.1 245.0,378.8" fill="#2a2a2a" />
<polygon points="238.4,383.0 239.5,382.3 240.6,382.8 239.5,383.5" fill="#2a2a2a" />
<polygon points="240.6,381.6 241.7,380.9 242.8,381.4 241.7,382.1" fill="#2a2a2a" />
<polygon points="241.7,380.9 242.8,380.2 243.9,380.7 242.8,381.4" fill="#2a2a2a" />
<polygon points="242.8,380.2 243.9,379.5 245.0,380.0 243.9,380.7" fill="#2a2a2a" />
<polygon points="245.0,378.8 246.1,378.1 247.2,378.6 246.1,379.3" fill="#2a2a2a" />
<polygon points="239.5,383.5 240.6,382.8 241.7,383.3 240.6,384.0" fill="#2a2a2a" />
<polygon points="241.7,382.1 242.8,381.4 243.9,381.9 242.8,382.6" fill="#2a2a2a" />
<polygon points="242.8,381.4 243.9,380.7 245.0,381.2 243.9,381.9" fill="#2a2a2a" />
<polygon points="243.9,380.7 245.0,380.0 246.1,380.6 245.0,381.2" fill="#2a2a2a" />
<polygon points="246.1,379.3 247.2,378.6 248.3,379.2 247.2,379.9" fill="#2a2a2a" />
<polygon points="240.6,384.0 241.7,383.3 242.8,383.8 241.7,384.5" fill="#2a2a2a" />
<polygon points="242.8,382.6 243.9,381.9 245.0,382.5 243.9,383.1" fill="#2a2a2a" />
<polygon points="243.9,381.9 245.0,381.2 246.1,381.8 245.0,382.5" fill="#2a2a2a" />
<polygon points="245.0,381.2 246.1,380.6 247.2,381.1 246.1,381.8" fill="#2a2a2a" />
<polygon points="247.2,379.9 248.3,379.2 249.4,379.7 248.3,380.4" fill="#2a2a2a" />
<polygon points="241.7,384.5 242.8,383.8 243.9,384.4 242.8,385.0" fill="#2a2a2a" />
<polygon points="248.3,380.4 249.4,379.7 250.5,380.2 249.4,380.9" fill="#2a2a2a" />
<polygon points="242.8,385.0 243.9,384.4 245.0,384.9 243.9,385.6" fill="#2a2a2a" />
<polygon points="243.9,384.4 245.0,383.7 246.1,384.2 245.0,384.9" fill="#2a2a2a" />
<polygon points="245.0,383.7 246.1,383.0 247.2,383.5 246.1,384.2" fill="#2a2a2a" />
<polygon points="246.1,383.0 247.2,382.3 248.3,382.8 247.2,383.5" fill="#2a2a2a" />
<polygon points="247.2,382.3 248.3,381.6 249.4,382.1 248.3,382.8" fill="#2a2a2a" />
<polygon points="248.3,381.6 249.4,380.9 250.5,381.4 249.4,382.1" fill="#2a2a2a" />
<polygon points="249.4,380.9 250.5,380.2 251.6,380.7 250.5,381.4" fill="#2a2a2a" />
<polygon points="247.2,387.1 248.3,386.4 249.4,386.9 248.3,387.6" fill="#2a2a2a" />
<polygon points="248.3,386.4 249.4,385.7 250.5,386.2 249.4,386.9" fill="#2a2a2a" />
<polygon points="249.4,385.7 250.5,385.0 251.6,385.5 250.5,386.2" fill="#2a2a2a" />
<polygon points="250.5,385.0 251.6,384.3 252.7,384.8 251.6,385.5" fill="#2a2a2a" />
<polygon points="251.6,384.3 252.7,383.6 253.8,384.1 252.7,384.8" fill="#2a2a2a" />
<polygon points="252.7,383.6 253.8,382.9 254.9,383.4 253.8,384.1" fill="#2a2a2a" />
<polygon points="253.8,382.9 254.9,382.2 256.0,382.7 254.9,383.4" fill="#2a2a2a" />
<polygon points="248.3,387.6 249.4,386.9 250.5,387.4 249.3,388.1" fill="#2a2a2a" />
<polygon points="254.9,383.4 256.0,382.7 257.1,383.2 256.0,383.9" fill="#2a2a2a" />
<polygon points="249.3,388.1 250.5,387.4 251.5,387.9 250.4,388.6" fill="#2a2a2a" />
<polygon points="251.6,386.7 252.7,386.0 253.7,386.5 252.6,387.2" fill="#2a2a2a" />
<polygon points="252.7,386.0 253.8,385.3 254.8,385.8 253.7,386.5" fill="#2a2a2a" />
<polygon points="253.8,385.3 254.9,384.6 256.0,385.1 254.8,385.8" fill="#2a2a2a" />
<polygon points="256.0,383.9 257.1,383.2 258.2,383.8 257.1,384.5" fill="#2a2a2a" />
<polygon points="250.4,388.6 251.5,387.9 252.6,388.4 251.5,389.1" fill="#2a2a2a" />
<polygon points="252.6,387.2 253.7,386.5 254.8,387.0 253.7,387.7" fill="#2a2a2a" />
<polygon points="253.7,386.5 254.8,385.8 255.9,386.4 254.8,387.0" fill="#2a2a2a" />
<polygon points="254.8,385.8 256.0,385.1 257.0,385.7 255.9,386.4" fill="#2a2a2a" />
<polygon points="257.1,384.5 258.2,383.8 259.2,384.3 258.1,385.0" fill="#2a2a2a" />
<polygon points="251.5,389.1 252.6,388.4 253.7,388.9 252.6,389.6" fill="#2a2a2a" />
<polygon points="253.7,387.7 254.8,387.0 255.9,387.6 254.8,388.3" fill="#2a2a2a" />
<polygon points="254.8,387.0 255.9,386.4 257.0,386.9 255.9,387.6" fill="#2a2a2a" />
<polygon points="255.9,386.4 257.0,385.7 258.1,386.2 257.0,386.9" fill="#2a2a2a" />
<polygon points="258.1,385.0 259.2,384.3 260.3,384.8 259.2,385.5" fill="#2a2a2a" />
<polygon points="252.6,389.6 253.7,388.9 254.8,389.5 253.7,390.2" fill="#2a2a2a" />
<polygon points="259.2,385.5 260.3,384.8 261.4,385.3 260.3,386.0" fill="#2a2a2a" />
<polygon points="253.7,390.2 254.8,389.5 255.9,390.0 254.8,390.7" fill="#2a2a2a" />
<polygon points="254.8,389.5 255.9,388.8 257.0,389.3 255.9,390.0" fill="#2a2a2a" />
<polygon points="255.9,388.8 257.0,388.1 258.1,388.6 257.0,389.3" fill="#2a2a2a" />
<polygon points="257.0,388.1 258.1,387.4 259.2,387.9 258.1,388.6" fill="#2a2a2a" />
<polygon points="258.1,387.4 259.2,386.7 260.3,387.2 259.2,387.9" fill="#2a2a2a" />
<polygon points="259.2,386.7 260.3,386.0 261.4,386.5 260.3,387.2" fill="#2a2a2a" />
<polygon points="260.3,386.0 261.4,385.3 262.5,385.8 261.4,386.5" fill="#2a2a2a" />
<polygon points="234.0,383.4 235.1,382.7 236.2,383.2 235.1,383.9" fill="#2a2a2a" />
<polygon points="235.1,383.9 236.2,383.2 237.3,383.7 236.2,384.4" fill="#2a2a2a" />
<polygon points="237.3,384.9 238.4,384.2 239.5,384.7 238.4,385.4" fill="#2a2a2a" />
<polygon points="239.5,385.9 240.6,385.2 241.7,385.7 240.6,386.4" fill="#2a2a2a" />
<polygon points="240.6,386.4 241.7,385.7 242.8,386.3 241.7,386.9" fill="#2a2a2a" />
<polygon points="234.0,393.0 235.1,392.3 236.2,392.8 235.0,393.5" fill="#2a2a2a" />
<polygon points="235.1,392.3 236.2,391.6 237.3,392.1 236.2,392.8" fill="#2a2a2a" />
<polygon points="236.2,391.6 237.3,390.9 238.4,391.4 237.3,392.1" fill="#2a2a2a" />
<polygon points="237.3,390.9 238.4,390.2 239.5,390.7 238.4,391.4" fill="#2a2a2a" />
<polygon points="238.4,390.2 239.5,389.5 240.6,390.1 239.5,390.7" fill="#2a2a2a" />
<polygon points="240.6,388.8 241.7,388.2 242.8,388.7 241.7,389.4" fill="#2a2a2a" />
<polygon points="241.7,388.2 242.8,387.5 243.9,388.0 242.8,388.7" fill="#2a2a2a" />
<polygon points="246.1,385.4 247.2,384.7 248.3,385.2 247.2,385.9" fill="#2a2a2a" />
<polygon points="248.3,384.0 249.4,383.3 250.5,383.8 249.4,384.5" fill="#2a2a2a" />
<polygon points="250.5,382.6 251.6,381.9 252.7,382.4 251.6,383.1" fill="#2a2a2a" />
<polygon points="251.6,381.9 252.7,381.2 253.8,381.7 252.7,382.4" fill="#2a2a2a" />
<polygon points="235.0,393.5 236.2,392.8 237.2,393.3 236.1,394.0" fill="#2a2a2a" />
<polygon points="236.2,392.8 237.3,392.1 238.3,392.6 237.2,393.3" fill="#2a2a2a" />
<polygon points="238.4,391.4 239.5,390.7 240.6,391.3 239.4,392.0" fill="#2a2a2a" />
<polygon points="241.7,389.4 242.8,388.7 243.9,389.2 242.8,389.9" fill="#2a2a2a" />
<polygon points="243.9,388.0 245.0,387.3 246.1,387.8 245.0,388.5" fill="#2a2a2a" />
<polygon points="236.1,394.0 237.2,393.3 238.3,393.9 237.2,394.5" fill="#2a2a2a" />
<polygon points="237.2,393.3 238.3,392.6 239.4,393.2 238.3,393.9" fill="#2a2a2a" />
<polygon points="239.4,392.0 240.6,391.3 241.6,391.8 240.5,392.5" fill="#2a2a2a" />
<polygon points="240.6,391.3 241.7,390.6 242.7,391.1 241.6,391.8" fill="#2a2a2a" />
<polygon points="242.8,389.9 243.9,389.2 244.9,389.7 243.8,390.4" fill="#2a2a2a" />
<polygon points="243.9,389.2 245.0,388.5 246.1,389.0 244.9,389.7" fill="#2a2a2a" />
<polygon points="238.3,393.9 239.4,393.2 240.5,393.7 239.4,394.4" fill="#2a2a2a" />
<polygon points="243.8,390.4 244.9,389.7 246.0,390.2 244.9,390.9" fill="#2a2a2a" />
<polygon points="246.1,389.0 247.2,388.3 248.2,388.8 247.1,389.5" fill="#2a2a2a" />
<polygon points="238.3,395.1 239.4,394.4 240.5,394.9 239.4,395.6" fill="#2a2a2a" />
<polygon points="240.5,393.7 241.6,393.0 242.7,393.5 241.6,394.2" fill="#2a2a2a" />
<polygon points="241.6,393.0 242.7,392.3 243.8,392.8 242.7,393.5" fill="#2a2a2a" />
<polygon points="242.7,392.3 243.8,391.6 244.9,392.1 243.8,392.8" fill="#2a2a2a" />
<polygon points="239.4,395.6 240.5,394.9 241.6,395.4 240.5,396.1" fill="#2a2a2a" />
<polygon points="243.8,392.8 244.9,392.1 246.0,392.6 244.9,393.3" fill="#2a2a2a" />
<polygon points="247.1,390.7 248.2,390.0 249.3,390.5 248.2,391.2" fill="#2a2a2a" />
<polygon points="240.5,396.1 241.6,395.4 242.7,395.9 241.6,396.6" fill="#2a2a2a" />
<polygon points="246.0,392.6 247.1,391.9 248.2,392.4 247.1,393.1" fill="#2a2a2a" />
<polygon points="247.1,391.9 248.2,391.2 249.3,391.7 248.2,392.4" fill="#2a2a2a" />
<polygon points="249.3,390.5 250.4,389.8 251.5,390.3 250.4,391.0" fill="#2a2a2a" />
<polygon points="241.6,396.6 242.7,395.9 243.8,396.4 242.7,397.1" fill="#2a2a2a" />
<polygon points="242.7,395.9 243.8,395.2 244.9,395.7 243.8,396.4" fill="#2a2a2a" />
<polygon points="243.8,395.2 244.9,394.5 246.0,395.0 244.9,395.7" fill="#2a2a2a" />
<polygon points="244.9,394.5 246.0,393.8 247.1,394.3 246.0,395.0" fill="#2a2a2a" />
<polygon points="247.1,393.1 248.2,392.4 249.3,392.9 248.2,393.6" fill="#2a2a2a" />
<polygon points="248.2,392.4 249.3,391.7 250.4,392.2 249.3,392.9" fill="#2a2a2a" />
<polygon points="249.3,391.7 250.4,391.0 251.5,391.5 250.4,392.2" fill="#2a2a2a" />
<polygon points="242.7,397.1 243.8,396.4 244.9,396.9 243.8,397.6" fill="#2a2a2a" />
<polygon points="243.8,396.4 244.9,395.7 246.0,396.2 244.9,396.9" fill="#2a2a2a" />
<polygon points="249.3,392.9 250.4,392.2 251.5,392.7 250.4,393.4" fill="#2a2a2a" />
<polygon points="250.4,392.2 251.5,391.5 252.6,392.1 251.5,392.7" fill="#2a2a2a" />
<polygon points="251.5,391.5 252.6,390.8 253.7,391.4 252.6,392.1" fill="#2a2a2a" />
<polygon points="145.8,437.1 173.6,419.5 182.1,423.5 154.3,441.1" fill="none" stroke="#fbe0e0" stroke-width="1.1"/>
<text x="0" y="0" font-size="8.5" font-weight="bold" fill="#fbe3e3" textLength="24.3" lengthAdjust="spacingAndGlyphs" transform="matrix(-0.846,0.533,-0.906,-0.424,171.7,422.6)">HALL</text>
<path d="M187.7,452.8 l2.5,-1.3" stroke="#6a1010" stroke-width="0.7"/>
<path d="M211.8,437.6 l2.5,-1.3" stroke="#6a1010" stroke-width="0.7"/>
<path d="M236.0,422.4 l2.5,-1.3" stroke="#6a1010" stroke-width="0.7"/>
<path d="M250.5,413.2 l2.5,-1.3" stroke="#6a1010" stroke-width="0.7"/>
<path d="M269.9,401.0 l2.5,-1.3" stroke="#6a1010" stroke-width="0.7"/>
<path d="M288.0,389.6 l2.5,-1.3" stroke="#6a1010" stroke-width="0.7"/>
<g transform="matrix(0.846,-0.533,0,1,195.1,470.8)"><circle r="8.2" fill="#d8d8d8"/><circle r="7" fill="#8e8e8e"/><circle r="5.5" fill="#a4a4a4"/><circle r="3" fill="#b0b0b0"/></g>
<polygon points="207.2,454.8 219.9,446.8 219.9,463.5 207.2,471.3" fill="#a8a8a8" stroke="#f0f0f0" stroke-width="1.2"/>
<ellipse cx="226.9" cy="451.1" rx="1.9" ry="3" fill="#7a7a7a"/>
<ellipse cx="235.6" cy="445.7" rx="1.9" ry="3" fill="#7a7a7a"/>
<polygon points="240.2,434.1 248.3,429.1 248.3,440.8 240.2,445.8" fill="#e6e6e6" />
<polygon points="252.1,425.5 263.3,418.5 263.3,428.0 252.1,434.9" fill="#b0b0b0" stroke="#e0e0e0" stroke-width="1"/>
<polygon points="268.0,413.8 279.8,406.3 279.8,425.5 268.0,432.8" fill="#a8a8a8" stroke="#f0f0f0" stroke-width="1.2"/>
<polygon points="287.8,404.3 294.1,400.4 294.1,408.9 287.8,412.8" fill="#5a5a5a" />
<path d="M439,147 C452,156 470,164 500,167 C520,168 535,158 533,147 C531,135 514,124 503,112 C494,102 492,93 505,91 C520,89 545,95 565,94 C580,93 592,86 587,75 C582,63 567,56 564,42 C562,29 580,22 600,21 C625,19 650,17 668,17" fill="none" stroke="url(#g1)" stroke-width="2.8" stroke-linecap="round"/>
<path d="M273,419 C285,430 300,445 338,455 C365,462 395,464 430,462 C455,461 470,462 473,478 C475,495 474,506 495,511 C515,516 540,507 570,501 C600,496 640,494 675,505 C700,514 715,526 708,540 C700,556 670,566 658,585 C650,600 660,620 685,635 C705,646 720,652 735,654" fill="none" stroke="url(#g2)" stroke-width="2.8" stroke-linecap="round"/>
<polyline points="376.5,190.4 426,211.3 49.8,456.3 181.6,518.1 248.1,476.4 216.6,459.8" fill="none" stroke="#e0874e" stroke-width="1.6"/>
<line x1="604.1" y1="235.3" x2="429.0" y2="157.1" stroke="#5aab5a" stroke-width="1.5" />
<polygon points="426.0,155.8 433.7,155.7 431.1,161.6" fill="#5aab5a" />
<polyline points="260.5,428.6 418.6,499.7 303,573.6" fill="none" stroke="#5aab5a" stroke-width="1.5"/>
<polygon points="257.4,427.4 265.1,427.3 262.5,433.2" fill="#5aab5a" />
<polygon points="300.0,575.5 304.1,569.0 307.6,574.5" fill="#5aab5a" />
<line x1="101.0" y1="384.5" x2="124.5" y2="420.0" stroke="#8d9aa6" stroke-width="1" />
<polyline points="727,646 735.5,654 724.5,655.5" fill="none" stroke="#e4ebf1" stroke-width="1.6"/>
<line x1="163" y1="707.5" x2="187" y2="719.5" stroke="#8d8d8d" stroke-width="7" stroke-linecap="round"/>
<line x1="163" y1="705.5" x2="187" y2="717.5" stroke="#a3a3a3" stroke-width="2.5" stroke-linecap="round"/>
<path d="M453,378.5 Q451.5,377 454,375.8 L468.5,370.2 Q471,369.5 473.5,370.6 L491.5,380.5 Q493.5,382 491,383.4 L477,391.5 Q474.7,392.6 472.3,391.5 Z" fill="#262626"/>
<path d="M453,378.5 L472.3,391.5 Q474.7,392.6 477,391.5 L491,383.4 Q493.5,382 493,384 L493,389 Q493,390.5 491,391.8 L477,398.8 Q474.7,400 472.3,398.8 L453,386 Q451.5,385 451.5,383.5 L451.5,379 Q451.5,377.5 453,378.5 Z" fill="#0e0e0e"/>
<ellipse cx="472" cy="380.5" rx="3" ry="1.6" fill="#353535"/>
<line x1="474" y1="405" x2="509" y2="395" stroke="#b8b8b8" stroke-width="4.5" stroke-linecap="round"/>
<line x1="474" y1="406.5" x2="509" y2="396.5" stroke="#8a8a8a" stroke-width="1.5" stroke-linecap="round"/>
<circle cx="488.0" cy="399.5" r="1.2" fill="#333"/>
<circle cx="492.2" cy="398.3" r="1.2" fill="#333"/>
<circle cx="496.4" cy="397.1" r="1.2" fill="#333"/>
<circle cx="500.6" cy="395.9" r="1.2" fill="#333"/>
<polygon points="582.9,372.0 606.0,390.0 596.0,404.0 574.0,404.0" fill="#c8d6c5" />
<polygon points="540.1,322.8 549.0,319.5 582.9,323.5 574.1,327.6" fill="#f0f0f0" />
<polygon points="540.1,322.8 574.1,327.6 574.1,403.5 540.1,398.0" fill="#f8f8f8" />
<polygon points="574.1,327.6 582.9,323.5 582.9,398.0 574.1,403.5" fill="#dedede" />
<ellipse cx="555.5" cy="350.5" rx="14" ry="19" fill="#151515"/>
<line x1="540.1" y1="323.0" x2="540.1" y2="398.0" stroke="#d2d2d2" stroke-width="0.8" />
<rect x="577" y="389" width="1.6" height="3" fill="#777"/>
<path d="M525,382 C527,373 536,370 543,373 C550,371 557,375 557,384 C558,393 554,402 548,400 C545,397 540,396 536,398 C530,402 525,396 525,382 Z" fill="#f4f4f4" stroke="#cfcfcf" stroke-width="0.8"/>
<circle cx="533" cy="381" r="2.1" fill="#3a3a3a"/>
<circle cx="548" cy="378" r="2.1" fill="#3a3a3a"/>
<circle cx="544" cy="386" r="2.1" fill="#3a3a3a"/>
<circle cx="551" cy="383" r="2.1" fill="#3a3a3a"/>
<defs><radialGradient id="disc" cx="0.5" cy="0.5" r="0.5"><stop offset="0" stop-color="#ffffff"/><stop offset="0.22" stop-color="#d8e6ee"/><stop offset="0.3" stop-color="#6cc3e8"/><stop offset="0.7" stop-color="#2a8fcf"/><stop offset="1" stop-color="#145a9a"/></radialGradient><linearGradient id="dvdf" x1="0" y1="0" x2="1" y2="0"><stop offset="0" stop-color="#184a72"/><stop offset="1" stop-color="#2f8cc4"/></linearGradient></defs>
<ellipse cx="634" cy="354.5" rx="19.7" ry="20" fill="url(#disc)"/>
<ellipse cx="632.8" cy="355.2" rx="4.5" ry="4.5" fill="#e9eef2" stroke="#9fb4c2" stroke-width="0.8"/>
<path d="M622,362 q8,-4 14,0 q-6,5 -14,0z" fill="#0d4f93"/>
<text x="622" y="348.5" font-size="4.6" font-weight="bold" fill="#fff">BLU</text>
<text x="637" y="348.5" font-size="4.6" font-weight="bold" fill="#fff">RAY</text>
<polygon points="613.1,377.0 663.4,369.4 694.0,378.1 637.2,387.3" fill="#2b3036" />
<polygon points="625.0,377.5 660.0,371.5 685.0,378.0 640.0,385.0" fill="#3a4656" />
<polygon points="613.1,377.0 637.2,387.3 637.2,402.2 613.1,390.0" fill="#16191d" />
<polygon points="637.2,387.3 694.0,378.1 694.0,390.0 637.2,402.2" fill="url(#dvdf)" />
<line x1="637.2" y1="387.6" x2="694.0" y2="378.4" stroke="#bcd6e6" stroke-width="0.6" />
<circle cx="639.5" cy="396.5" r="0.8" fill="#e8f6ff"/>
<circle cx="642.7" cy="395.9" r="0.8" fill="#e8f6ff"/>
<circle cx="645.9" cy="395.3" r="0.8" fill="#e8f6ff"/>
<circle cx="649.1" cy="394.7" r="0.8" fill="#e8f6ff"/>
<circle cx="687.0" cy="383.3" r="0.8" fill="#e8f6ff"/>
<circle cx="690.0" cy="382.8" r="0.8" fill="#e8f6ff"/>
<polygon points="697.3,392.3 722.5,385.8 763.0,392.3 735.6,400.0" fill="#2c2c2c" />
<polygon points="697.3,392.3 735.6,400.0 735.6,406.6 697.3,398.0" fill="#141414" />
<polygon points="735.6,400.0 763.0,392.3 763.0,398.5 735.6,406.6" fill="#1e1e1e" />
<circle cx="719.2" cy="396.7" r="0.9" fill="#e03030"/>
<polygon points="713.0,376.0 747.0,374.0 748.7,390.0 714.0,392.0" fill="#1d1d1d" />
<path d="M712,358 C716,352 740,350 748,355 C752,358 752,375 747,379 C740,383 718,383 712,378 C709,372 709,363 712,358 Z" fill="#232323"/>
<ellipse cx="739" cy="365" rx="9" ry="11" fill="#2e2e2e"/>
<ellipse cx="720.8" cy="365" rx="10" ry="9.2" fill="#3a3a3a" stroke="#111" stroke-width="1"/>
<ellipse cx="720.8" cy="365" rx="6" ry="5.5" fill="#8a8a8a"/>
<ellipse cx="720.8" cy="365" rx="3.5" ry="3.2" fill="#222"/>
<ellipse cx="719.5" cy="363.6" rx="1.3" ry="1.1" fill="#ddd"/>
<text x="218.4" y="115.5" font-size="14.8" fill="#151515" font-weight="bold" textLength="100.7" lengthAdjust="spacingAndGlyphs">HT-AIM100-TX</text>
<text x="10.7" y="381.1" font-size="15.3" fill="#151515" font-weight="bold" textLength="102.6" lengthAdjust="spacingAndGlyphs">HT-AIM100-RX</text>
<text x="331.7" y="35.3" font-size="12.6" fill="#a6a6a6" font-weight="normal" textLength="52.5" lengthAdjust="spacingAndGlyphs">IR Blaster</text>
<text x="311" y="57.6" font-size="12.6" fill="#a6a6a6" font-weight="normal" textLength="61.8" lengthAdjust="spacingAndGlyphs">IR Receiver</text>
<text x="435.2" y="75.8" font-size="12.6" fill="#a6a6a6" font-weight="normal" textLength="40.4" lengthAdjust="spacingAndGlyphs">Control</text>
<polyline points="389.2,31.4 399.3,31.4 399.3,159.0" fill="none" stroke="#2a2a2a" stroke-width="1.2"/>
<polygon points="397.5,156.0 401.1,156.0 399.3,159.5" fill="#2a2a2a"/>
<polyline points="377.6,54.4 391.3,54.4 391.3,163.7" fill="none" stroke="#2a2a2a" stroke-width="1.2"/>
<polygon points="389.5,160.7 393.1,160.7 391.3,164.2" fill="#2a2a2a"/>
<polyline points="430.8,72.5 408.0,72.5 408.0,152.7" fill="none" stroke="#2a2a2a" stroke-width="1.2"/>
<polygon points="406.2,149.7 409.8,149.7 408.0,153.2" fill="#2a2a2a"/>
<text x="165.8" y="283.7" font-size="12.6" fill="#a6a6a6" font-weight="normal" textLength="52.9" lengthAdjust="spacingAndGlyphs">IR Blaster</text>
<text x="145.5" y="306" font-size="12.6" fill="#a6a6a6" font-weight="normal" textLength="61.6" lengthAdjust="spacingAndGlyphs">IR Receiver</text>
<text x="269.5" y="259.7" font-size="12.6" fill="#a6a6a6" font-weight="normal" textLength="40.5" lengthAdjust="spacingAndGlyphs">Control</text>
<polyline points="223.6,280.5 233.8,280.5 233.8,425.8" fill="none" stroke="#2a2a2a" stroke-width="1.2"/>
<polygon points="232.0,422.8 235.6,422.8 233.8,426.3" fill="#2a2a2a"/>
<polyline points="211.7,303.0 225.7,303.0 225.7,430.5" fill="none" stroke="#2a2a2a" stroke-width="1.2"/>
<polygon points="223.9,427.5 227.5,427.5 225.7,431.0" fill="#2a2a2a"/>
<polyline points="264.7,256.0 241.5,256.0 241.5,421.0" fill="none" stroke="#2a2a2a" stroke-width="1.2"/>
<polygon points="239.7,418.0 243.3,418.0 241.5,421.5" fill="#2a2a2a"/>
<text x="616.4" y="68.7" font-size="12.6" fill="#a6a6a6" font-weight="normal" textLength="38.9" lengthAdjust="spacingAndGlyphs">Laptop</text>
<text x="514.4" y="121" font-size="11" fill="#4a9fd0" font-weight="normal" textLength="40.2" lengthAdjust="spacingAndGlyphs">Ethernet</text>
<text x="582.3" y="216.4" font-size="10.9" fill="#62b062" font-weight="normal" textLength="38.5" lengthAdjust="spacingAndGlyphs">HDMI IN</text>
<text x="439.4" y="332" font-size="10.9" fill="#62b062" font-weight="normal" textLength="92.7" lengthAdjust="spacingAndGlyphs">other HDMI sources</text>
<text x="452.2" y="435.8" font-size="12.6" fill="#a6a6a6" font-weight="normal" textLength="50.8" lengthAdjust="spacingAndGlyphs">Apple TV</text>
<text x="516.7" y="435.8" font-size="12.6" fill="#a6a6a6" font-weight="normal" textLength="97.8" lengthAdjust="spacingAndGlyphs">Gaming Consoles</text>
<text x="626.5" y="435.8" font-size="12.6" fill="#a6a6a6" font-weight="normal" textLength="67.2" lengthAdjust="spacingAndGlyphs">DVD Players</text>
<text x="707.3" y="435.8" font-size="12.6" fill="#a6a6a6" font-weight="normal" textLength="50.2" lengthAdjust="spacingAndGlyphs">Cameras</text>
<text x="316" y="432.6" font-size="11" fill="#4a9fd0" font-weight="normal" textLength="40.3" lengthAdjust="spacingAndGlyphs">Ethernet</text>
<text x="309.2" y="498.3" font-size="10.6" fill="#62b062" font-weight="normal" textLength="48" lengthAdjust="spacingAndGlyphs">HDMI OUT</text>
<text x="75.8" y="597.9" font-size="12.2" fill="#a6a6a6" font-weight="normal" textLength="40.1" lengthAdjust="spacingAndGlyphs">Display</text>
<text x="298.2" y="313.6" font-size="10.7" fill="#e08f62" font-weight="normal" textLength="83.1" lengthAdjust="spacingAndGlyphs">CAT.6/6A/7 cable</text>
</svg></body></html>
